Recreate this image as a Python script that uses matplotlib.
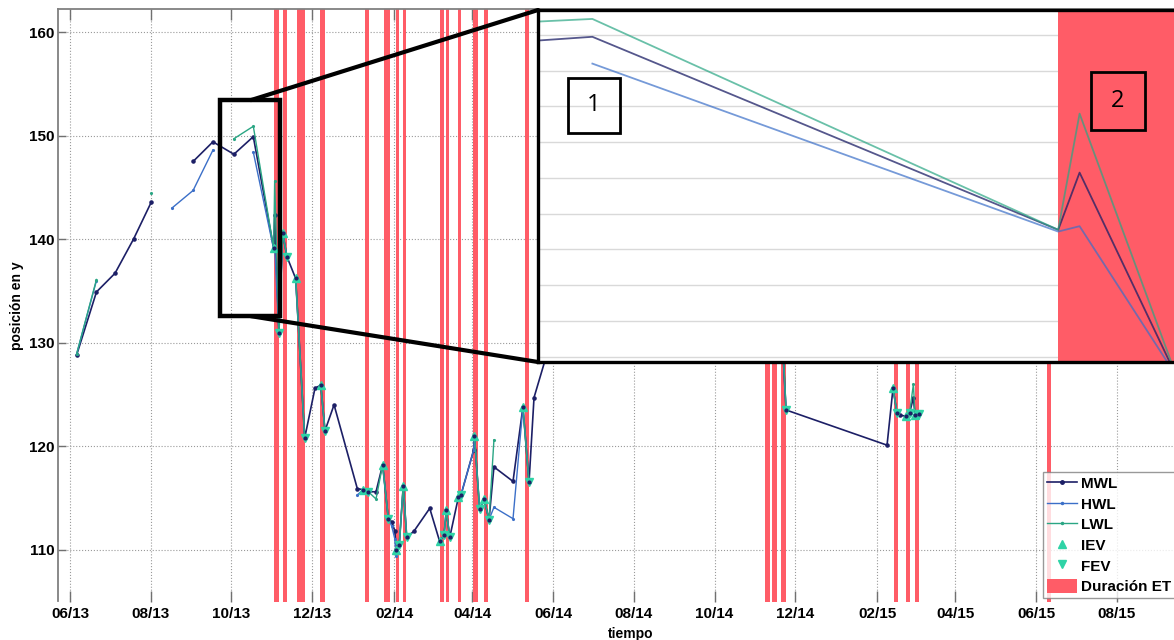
import numpy as np
import pandas as pd
import matplotlib
matplotlib.use("Agg")
import matplotlib.pyplot as plt
import matplotlib.dates as mdates
from matplotlib.lines import Line2D
from matplotlib.patches import Patch, Rectangle, ConnectionPatch

nan = np.nan

# MWL (nivel medio)
mwl_fechas = [
    "2013-06-06 00:00", "2013-06-21 00:00", "2013-07-05 00:00", "2013-07-19 00:00",
    "2013-08-01 12:00", "2013-08-17 00:00", "2013-09-02 00:00", "2013-09-17 00:00",
    "2013-10-02 20:00", "2013-10-17 12:00", "2013-11-01 22:00", "2013-11-02 15:00",
    "2013-11-05 20:00", "2013-11-08 17:00", "2013-11-11 22:00", "2013-11-18 12:00",
    "2013-11-25 08:00", "2013-12-03 02:00", "2013-12-07 12:00", "2013-12-10 16:00",
    "2013-12-17 12:00", "2014-01-04 02:00", "2014-01-08 14:00", "2014-01-12 10:00",
    "2014-01-18 05:00", "2014-01-23 05:00", "2014-01-27 12:00", "2014-01-30 00:00",
    "2014-02-01 12:00", "2014-02-02 07:00", "2014-02-04 19:00", "2014-02-07 19:00",
    "2014-02-10 10:00", "2014-02-15 22:00", "2014-02-27 19:00", "2014-03-07 07:00",
    "2014-03-10 14:00", "2014-03-12 07:00", "2014-03-14 22:00", "2014-03-21 12:00",
    "2014-03-23 10:00", "2014-04-01 22:00", "2014-04-02 14:00", "2014-04-06 12:00",
    "2014-04-09 19:00", "2014-04-13 14:00", "2014-04-17 07:00", "2014-05-01 17:00",
    "2014-05-09 05:00", "2014-05-13 19:00", "2014-05-17 14:00", "2014-05-25 22:00",
    "2014-06-12 00:00", "2014-11-20 05:00", "2014-11-24 00:00", "2015-02-08 07:00",
    "2015-02-12 19:00", "2015-02-15 19:00", "2015-02-18 02:00", "2015-02-22 07:00",
    "2015-02-25 07:00", "2015-02-28 05:00", "2015-03-01 10:00", "2015-03-04 10:00",
]
mwl_valores = [
    128.8, 134.9, 136.7, 140.0,
    143.6, nan, 147.5, 149.4,
    148.2, 149.9, 139.1, 142.3,
    130.9, 140.6, 138.3, 136.2,
    120.8, 125.6, 125.9, 121.5,
    124.0, 115.9, 115.8, 115.6,
    115.6, 118.2, 113.0, 112.7,
    111.8, 110.0, 110.5, 116.2,
    111.2, 111.8, 114.0, 110.8,
    111.4, 113.8, 111.2, 115.1,
    115.3, 119.6, 121.0, 113.9,
    114.9, 112.9, 118.0, 116.6,
    123.8, 116.5, 124.7, 128.3,
    131.5, 132.5, 123.5, 120.1,
    125.6, 123.2, 123.0, 122.9,
    123.2, 124.7, 123.0, 123.1,
]

# HWL
hwl_fechas = [
    "2013-06-06 00:00", "2013-06-21 00:00", "2013-07-05 00:00", "2013-08-17 00:00",
    "2013-09-02 00:00", "2013-09-17 00:00", "2013-10-02 20:00", "2013-10-17 12:00",
    "2013-11-01 22:00", "2013-11-02 15:00", "2013-11-05 20:00", "2013-11-08 17:00",
    "2013-11-11 22:00", "2013-11-15 00:00", "2013-11-18 12:00", "2013-11-25 08:00",
    "2013-12-01 00:00", "2013-12-07 12:00", "2013-12-10 16:00", "2013-12-15 00:00",
    "2014-01-04 02:00", "2014-01-08 14:00", "2014-01-12 10:00", "2014-01-15 00:00",
    "2014-01-23 05:00", "2014-01-27 12:00", "2014-01-30 00:00", "2014-02-01 12:00",
    "2014-02-02 07:00", "2014-02-04 19:00", "2014-02-07 19:00", "2014-02-10 10:00",
    "2014-02-12 00:00", "2014-03-07 07:00", "2014-03-10 14:00", "2014-03-12 07:00",
    "2014-03-14 22:00", "2014-03-18 00:00", "2014-03-21 12:00", "2014-03-23 10:00",
    "2014-04-01 22:00", "2014-04-02 14:00", "2014-04-06 12:00", "2014-04-09 19:00",
    "2014-04-13 14:00", "2014-04-17 07:00", "2014-05-01 17:00", "2014-05-09 05:00",
    "2014-05-13 19:00", "2014-05-15 00:00", "2014-11-20 05:00", "2014-11-24 00:00",
    "2014-12-01 00:00", "2015-02-12 19:00", "2015-02-15 19:00", "2015-02-18 00:00",
    "2015-02-22 07:00", "2015-02-25 07:00", "2015-02-27 00:00", "2015-03-01 10:00",
    "2015-03-04 10:00",
]
hwl_valores = [
    128.9, 136.0, nan, 143.0,
    144.7, 148.6, nan, 148.4,
    139.0, 139.3, 130.9, 140.6,
    138.3, nan, 136.2, 120.8,
    nan, 125.9, 121.5, nan,
    115.3, 115.8, 115.6, nan,
    118.2, 113.0, 112.3, 111.0,
    109.4, 110.5, 116.2, 111.2,
    nan, 110.8, 111.4, 113.8,
    111.2, nan, 115.1, 115.3,
    119.6, 121.0, 113.9, 114.9,
    112.9, 114.1, 113.0, 123.8,
    116.5, nan, 132.5, 123.5,
    nan, 125.6, 123.2, nan,
    122.9, 123.2, nan, 123.0,
    123.1,
]

# LWL
lwl_fechas = [
    "2013-06-06 00:00", "2013-06-21 00:00", "2013-07-05 00:00", "2013-08-01 12:00",
    "2013-08-17 00:00", "2013-10-02 20:00", "2013-10-17 12:00", "2013-11-01 22:00",
    "2013-11-02 15:00", "2013-11-05 20:00", "2013-11-08 17:00", "2013-11-11 22:00",
    "2013-11-15 00:00", "2013-11-18 12:00", "2013-11-25 08:00", "2013-12-01 00:00",
    "2013-12-07 12:00", "2013-12-10 16:00", "2013-12-15 00:00", "2014-01-08 14:00",
    "2014-01-12 10:00", "2014-01-18 05:00", "2014-01-23 05:00", "2014-01-27 12:00",
    "2014-01-29 00:00", "2014-02-02 07:00", "2014-02-04 19:00", "2014-02-07 19:00",
    "2014-02-10 10:00", "2014-02-12 00:00", "2014-03-07 07:00", "2014-03-10 14:00",
    "2014-03-12 07:00", "2014-03-14 22:00", "2014-03-18 00:00", "2014-03-21 12:00",
    "2014-03-23 10:00", "2014-03-27 00:00", "2014-04-02 14:00", "2014-04-06 12:00",
    "2014-04-09 19:00", "2014-04-13 14:00", "2014-04-17 07:00", "2014-04-25 00:00",
    "2014-05-09 05:00", "2014-05-13 19:00", "2014-05-15 00:00", "2014-11-20 05:00",
    "2014-11-24 00:00", "2014-12-01 00:00", "2015-02-12 19:00", "2015-02-15 19:00",
    "2015-02-18 00:00", "2015-02-22 07:00", "2015-02-25 07:00", "2015-02-28 05:00",
    "2015-03-01 10:00", "2015-03-04 10:00",
]
lwl_valores = [
    128.9, 136.1, nan, 144.5,
    nan, 149.7, 150.9, 139.1,
    145.6, 130.9, 140.6, 138.3,
    nan, 136.2, 120.8, nan,
    125.9, 121.5, nan, 115.8,
    115.6, 114.9, 118.2, 113.0,
    nan, 110.0, 110.5, 116.2,
    111.2, nan, 110.8, 111.4,
    113.8, 111.2, nan, 115.1,
    115.3, nan, 121.0, 113.9,
    114.9, 112.9, 120.6, nan,
    123.8, 116.5, nan, 134.0,
    123.5, nan, 125.6, 123.2,
    nan, 122.9, 123.2, 126.0,
    123.0, 123.1,
]

# inicio (IEV) y fin (FEV) de eventos
iev_fechas = [
    "2013-11-01 22:00", "2013-11-08 17:00", "2013-11-18 12:00", "2013-12-07 12:00",
    "2014-01-08 14:00", "2014-01-23 05:00", "2014-02-02 07:00", "2014-02-07 19:00",
    "2014-03-07 07:00", "2014-03-12 07:00", "2014-03-21 12:00", "2014-04-02 14:00",
    "2014-04-09 19:00", "2014-05-09 05:00", "2014-11-20 05:00", "2015-02-12 19:00",
    "2015-02-22 07:00", "2015-03-01 10:00",
]
iev_valores = [
    139.1, 140.6, 136.2, 125.9,
    115.8, 118.2, 110.0, 116.2,
    110.8, 113.8, 115.1, 121.0,
    114.9, 123.8, 132.5, 125.6,
    122.9, 123.0,
]
fev_fechas = [
    "2013-11-05 20:00", "2013-11-11 22:00", "2013-11-25 08:00", "2013-12-10 16:00",
    "2014-01-12 10:00", "2014-01-27 12:00", "2014-02-04 19:00", "2014-02-10 10:00",
    "2014-03-10 14:00", "2014-03-14 22:00", "2014-03-23 10:00", "2014-04-06 12:00",
    "2014-04-13 14:00", "2014-05-13 19:00", "2014-11-24 00:00", "2015-02-15 19:00",
    "2015-02-25 07:00", "2015-03-04 10:00",
]
fev_valores = [
    130.9, 138.3, 120.8, 121.5,
    115.6, 113.0, 110.5, 111.2,
    111.4, 111.2, 115.3, 113.9,
    112.9, 116.5, 123.5, 123.2,
    123.2, 123.1,
]

# duracion de los eventos (ET)
et_inicio = [
    "2013-11-01 22:00", "2013-11-08 17:00", "2013-11-19 12:00", "2013-12-06 22:00",
    "2014-01-09 22:00", "2014-01-24 05:00", "2014-02-02 02:00", "2014-02-07 19:00",
    "2014-03-07 19:00", "2014-03-11 22:00", "2014-03-21 02:00", "2014-04-01 19:00",
    "2014-04-09 19:00", "2014-05-10 12:00", "2014-11-08 00:00", "2014-11-13 10:00",
    "2014-11-20 05:00", "2015-02-13 12:00", "2015-02-22 14:00", "2015-03-01 10:00",
    "2015-06-09 00:00",
]
et_fin = [
    "2013-11-05 20:00", "2013-11-11 22:00", "2013-11-25 08:00", "2013-12-10 16:00",
    "2014-01-12 22:00", "2014-01-28 19:00", "2014-02-04 19:00", "2014-02-09 22:00",
    "2014-03-10 07:00", "2014-03-14 07:00", "2014-03-23 14:00", "2014-04-05 12:00",
    "2014-04-13 02:00", "2014-05-13 14:00", "2014-11-11 22:00", "2014-11-17 02:00",
    "2014-11-24 00:00", "2015-02-16 14:00", "2015-02-25 14:00", "2015-03-04 10:00",
    "2015-06-12 00:00",
]

# marcas del eje de tiempo
x_ticks = ["2013-06-01", "2013-08-01", "2013-10-01", "2013-12-01", "2014-02-01",
           "2014-04-01", "2014-06-01", "2014-08-01", "2014-10-01", "2014-12-01",
           "2015-02-01", "2015-04-01", "2015-06-01", "2015-08-01", "2015-10-01"]
x_labels = ["06/13", "08/13", "10/13", "12/13", "02/14", "04/14", "06/14", "08/14",
            "10/14", "12/14", "02/15", "04/15", "06/15", "08/15", ""]

# ventana ampliada
zoom_fechas = ["2013-09-22 08:00", "2013-11-07 00:00"]
zoom_valores = [132.56, 153.43]
inset_fechas = ["2013-10-15 16:48", "2013-11-05 18:00"]
inset_valores = [131.7, 151.4]

C_MWL = "#1c1f66"
C_HWL = "#3b6fc8"
C_LWL = "#2aa684"
C_EV = "#2fd3a6"
C_ET = "#ff5c67"

plt.rcParams["font.family"] = ["Liberation Sans", "DejaVu Sans"]
plt.rcParams["font.weight"] = "bold"
plt.rcParams["axes.labelweight"] = "bold"

fig = plt.figure(figsize=(11.74, 6.4), dpi=100)
ax = fig.add_axes([57.5 / 1174, 1 - 601.5 / 640, (1203 - 57.5) / 1174, (601.5 - 9.3) / 640])

mwl_t = pd.to_datetime(mwl_fechas)
hwl_t = pd.to_datetime(hwl_fechas)
lwl_t = pd.to_datetime(lwl_fechas)

for ini, fin in zip(et_inicio, et_fin):
    ax.axvspan(pd.Timestamp(ini), pd.Timestamp(fin), color=C_ET, lw=0, zorder=1)

ax.plot(mwl_t, mwl_valores, color=C_MWL, lw=1.2, marker=".", ms=4.5, zorder=2)
ax.plot(hwl_t, hwl_valores, color=C_HWL, lw=1.0, marker=".", ms=2.5, zorder=2.1)
ax.plot(lwl_t, lwl_valores, color=C_LWL, lw=1.0, marker=".", ms=2.5, zorder=2.2)
ax.plot(pd.to_datetime(iev_fechas), iev_valores, ls="none", marker="^", ms=5.5,
        color=C_EV, zorder=3)
ax.plot(pd.to_datetime(fev_fechas), fev_valores, ls="none", marker="v", ms=5.5,
        color=C_EV, zorder=3)
ax.plot(pd.to_datetime(iev_fechas), iev_valores, ls="none", marker=".", ms=4,
        color=C_MWL, zorder=3.1)
ax.plot(pd.to_datetime(fev_fechas), fev_valores, ls="none", marker=".", ms=4,
        color=C_MWL, zorder=3.1)

ax.set_xlim(pd.Timestamp("2013-05-22 13:30"), pd.Timestamp("2015-10-05"))
ax.set_ylim(105, 162.2)
ax.set_yticks(np.arange(110, 161, 10))
ax.set_xticks(pd.to_datetime(x_ticks))
ax.set_xticklabels(x_labels)
ax.set_axisbelow(True)
ax.grid(True, ls=":", color="#9a9a9a", lw=0.8)
ax.tick_params(axis="x", direction="in", length=8, width=1, color="#707070",
               top=True, labelsize=11, pad=4)
ax.tick_params(axis="y", direction="in", length=5.5, width=1, color="#707070",
               right=False, labelsize=11, pad=2)
for s in ["right", "bottom"]:
    ax.spines[s].set_visible(False)
for s in ["left", "top"]:
    ax.spines[s].set_color("#808080")
    ax.spines[s].set_linewidth(1.3)

ax.set_xlabel("tiempo", fontsize=10)
ax.set_ylabel("posición en y", fontsize=10)

# rectangulo de la zona ampliada
zx = mdates.date2num(pd.to_datetime(zoom_fechas))
ax.add_patch(Rectangle((zx[0], zoom_valores[0]), zx[1] - zx[0],
                       zoom_valores[1] - zoom_valores[0], fill=False,
                       ec="black", lw=3.2, zorder=6))

handles = [
    Line2D([], [], color=C_MWL, lw=1.2, marker=".", ms=5),
    Line2D([], [], color=C_HWL, lw=1.0, marker=".", ms=3),
    Line2D([], [], color=C_LWL, lw=1.0, marker=".", ms=3),
    Line2D([], [], ls="none", marker="^", ms=6, color=C_EV),
    Line2D([], [], ls="none", marker="v", ms=6, color=C_EV),
    Patch(color=C_ET, lw=0),
]
labels = ["MWL", "HWL", "LWL", "IEV", "FEV", "Duración ET"]
leg = ax.legend(handles, labels, loc="lower left",
                bbox_to_anchor=(1043 / 1174, 1 - 598 / 640),
                bbox_transform=fig.transFigure, fontsize=11, frameon=True,
                fancybox=False, edgecolor="#808080", borderaxespad=0,
                borderpad=0.25, handlelength=2.0, handletextpad=0.25,
                labelspacing=0.33, handleheight=1.1)
leg.get_frame().set_linewidth(1.0)
leg.set_zorder(7)

# ampliacion
ins = fig.add_axes([538 / 1174, 1 - 362 / 640, 1 - 538 / 1174, (362 - 10) / 640])
for ini, fin in zip(et_inicio, et_fin):
    ins.axvspan(pd.Timestamp(ini), pd.Timestamp(fin), color=C_ET, lw=0, zorder=1)
ins.plot(mwl_t, mwl_valores, color=C_MWL, lw=1.3, alpha=0.75, zorder=2)
ins.plot(hwl_t, hwl_valores, color=C_HWL, lw=1.3, alpha=0.7, zorder=2)
ins.plot(lwl_t, lwl_valores, color=C_LWL, lw=1.3, alpha=0.7, zorder=2)
ins.set_xlim(pd.to_datetime(inset_fechas))
ins.set_ylim(inset_valores)
ins.set_yticks(np.arange(132, 151, 2))
ins.set_axisbelow(True)
ins.grid(axis="y", color="#d9d9d9", lw=1)
ins.tick_params(left=False, bottom=False, labelleft=False, labelbottom=False)
ins.spines["right"].set_visible(False)
for s in ["left", "top", "bottom"]:
    ins.spines[s].set_color("black")
    ins.spines[s].set_linewidth(2.4)

for x0, y0, w, h, txt in [(0.047, 0.651, 0.082, 0.156, "1"),
                          (0.869, 0.659, 0.085, 0.165, "2")]:
    ins.add_patch(Rectangle((x0, y0), w, h, transform=ins.transAxes, fill=False,
                            ec="black", lw=2, zorder=5))
    ins.text(x0 + w / 2, y0 + h / 2, txt, transform=ins.transAxes, ha="center",
             va="center", fontsize=17, fontweight="normal", family="Open Sans",
             zorder=5)

x_ins = mdates.date2num(pd.Timestamp(inset_fechas[0]))
for yv, yb in [(zoom_valores[1], 1), (zoom_valores[0], 0)]:
    con = ConnectionPatch(xyA=(x_ins, yv), coordsA=ax.transData,
                          xyB=(0, yb), coordsB=ins.transAxes,
                          color="black", lw=3)
    fig.add_artist(con)

fig.savefig("out.png", dpi=100)
